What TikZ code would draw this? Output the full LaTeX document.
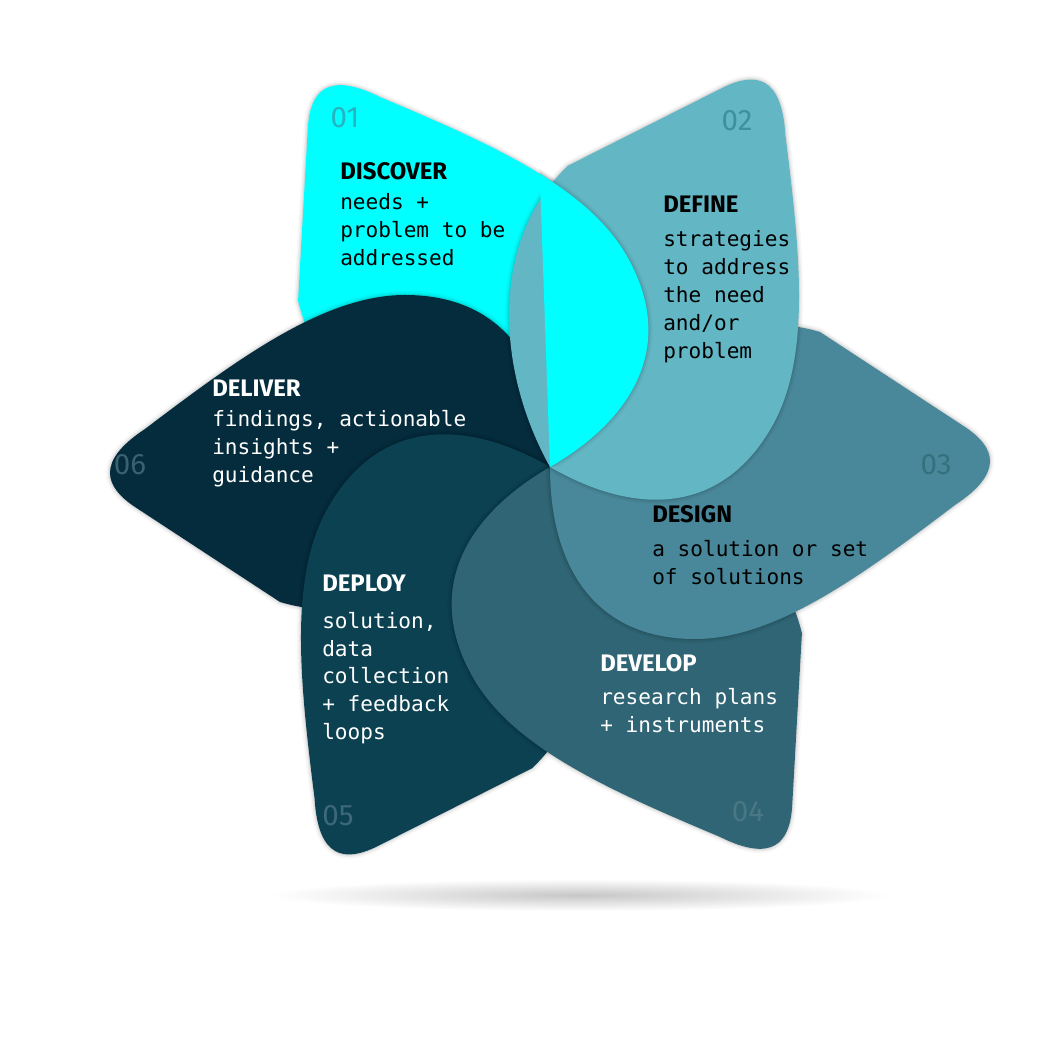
\documentclass[tikz,border=0pt]{standalone}
\usepackage{fontspec}
\setsansfont{Fira Sans}
\setmonofont{DejaVu Sans Mono}
\usetikzlibrary{positioning}
\definecolor{petalA}{HTML}{00FFFF}
\definecolor{petalB}{HTML}{63B6C4}
\definecolor{petalC}{HTML}{49889A}
\definecolor{petalD}{HTML}{2F6574}
\definecolor{petalE}{HTML}{0B4151}
\definecolor{petalF}{HTML}{052C3C}
\definecolor{numA}{HTML}{25B4C0}
\definecolor{numB}{HTML}{3F909E}
\definecolor{numC}{HTML}{35707F}
\definecolor{numD}{HTML}{4A7784}
\definecolor{numE}{HTML}{3C6877}
\definecolor{numF}{HTML}{3B6170}
\newcommand\petalpath{(0,0) .. controls (0,-100) and (45,-172) .. (145,-172)
  .. controls (225,-172) and (310,-110) .. (405,-38)
  .. controls (455,-5) and (445,20) .. (415,40) -- (270,135)
  .. controls (170,165) and (60,100) .. (0,0) -- cycle}
\newcommand\drawpetal[2]{%
  \begin{scope}[shift={(550,585)},rotate=#1]
    \foreach \w/\o in {24/0.03,14/0.05,6/0.07}
      \draw[black,opacity=\o,line width=\w*0.25pt,line join=round] \petalpath;
    \fill[#2] \petalpath;
  \end{scope}}
\tikzset{
  head/.style={font=\sffamily\bfseries\fontsize{17}{20}\selectfont, inner sep=0pt, anchor=base west},
  body/.style={font=\ttfamily\fontsize{15}{19.9}\selectfont, inner sep=0pt, anchor=north west, align=left},
  num/.style={font=\sffamily\fontsize{21}{24}\selectfont, inner sep=0pt}
}
\begin{document}
\begin{tikzpicture}[x=0.025cm,y=0.025cm]
  \useasboundingbox (0,0) rectangle (1060,1052);
  \shade[inner color=black!22, outer color=white] (580,157) ellipse (310 and 16);

  % petals, each covering its clockwise neighbour
  \drawpetal{120}{petalA}
  \drawpetal{180}{petalF}
  \drawpetal{-120}{petalE}
  \drawpetal{-60}{petalD}
  \drawpetal{0}{petalC}
  \drawpetal{60}{petalB}
  \begin{scope}
    \clip (550,585) -- +(5:700) -- +(92:700) -- cycle;
    \begin{scope}[shift={(550,585)},rotate=60]
      \clip \petalpath;
    \end{scope}
    \drawpetal{120}{petalA}
  \end{scope}

  % numbers
  \node[num, text=numA] (n1) at (345,934) {01};
  \node[num, text=numB] (n2) at (737,931) {02};
  \node[num, text=numC] (n3) at (936,587) {03};
  \node[num, text=numD] (n4) at (748,240) {04};
  \node[num, text=numE] (n5) at (338,236) {05};
  \node[num, text=numF] (n6) at (130,587) {06};

  % labels
  \node[head] (discover) at (340,872) {DISCOVER};
  \node[body] (discoverTxt) at ([yshift=-0.34cm]discover.base west) {needs +\\problem to be\\addressed};
  \node[head] (define) at (663,839) {DEFINE};
  \node[body] (defineTxt) at ([yshift=-0.42cm]define.base west) {strategies\\to address\\the need\\and/or\\problem};
  \node[head] (design) at (652,529) {DESIGN};
  \node[body] (designTxt) at ([yshift=-0.42cm]design.base west) {a solution or set\\of solutions};
  \node[head, text=white] (develop) at (600,380) {DEVELOP};
  \node[body, text=white] (developTxt) at ([yshift=-0.4cm]develop.base west) {research plans\\+ instruments};
  \node[head, text=white] (deploy) at (322,460) {DEPLOY};
  \node[body, text=white] (deployTxt) at ([yshift=-0.49cm]deploy.base west) {solution,\\data\\collection\\+ feedback\\loops};
  \node[head, text=white] (deliver) at (212,655) {DELIVER};
  \node[body, text=white] (deliverTxt) at ([yshift=-0.32cm]deliver.base west) {findings, actionable\\insights +\\guidance};
\end{tikzpicture}
\end{document}
